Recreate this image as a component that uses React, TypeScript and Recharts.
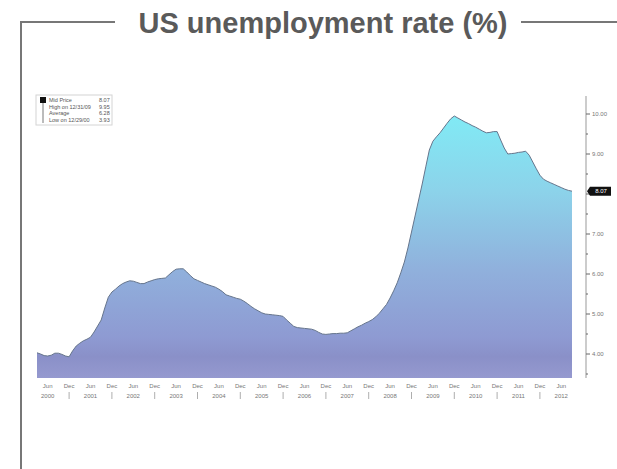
import React from 'react';
import { AreaChart, Area, XAxis, YAxis } from 'recharts';

const monthNames = ['Jan', 'Feb', 'Mar', 'Apr', 'May', 'Jun', 'Jul', 'Aug', 'Sep', 'Oct', 'Nov', 'Dec'];
const years = [2000, 2001, 2002, 2003, 2004, 2005, 2006, 2007, 2008, 2009, 2010, 2011, 2012];

// monthly rate, 2000 starts in March, 2012 ends in September
const rate2000 = [4.03, 4.0, 3.96, 3.95, 3.97, 4.02, 4.02, 3.99, 3.95, 3.93];
const rate2001 = [4.08, 4.2, 4.27, 4.33, 4.37, 4.42, 4.55, 4.7, 4.85, 5.15, 5.42, 5.55];
const rate2002 = [5.62, 5.7, 5.76, 5.8, 5.83, 5.82, 5.79, 5.76, 5.76, 5.8, 5.83, 5.86];
const rate2003 = [5.88, 5.89, 5.9, 5.98, 6.06, 6.12, 6.13, 6.13, 6.05, 5.96, 5.88, 5.84];
const rate2004 = [5.8, 5.76, 5.73, 5.7, 5.67, 5.62, 5.56, 5.48, 5.45, 5.42, 5.39, 5.37];
const rate2005 = [5.32, 5.26, 5.19, 5.13, 5.08, 5.03, 5.0, 4.99, 4.98, 4.97, 4.96, 4.94];
const rate2006 = [4.85, 4.77, 4.69, 4.66, 4.65, 4.64, 4.63, 4.62, 4.59, 4.54, 4.5, 4.49];
const rate2007 = [4.5, 4.51, 4.51, 4.52, 4.52, 4.53, 4.58, 4.63, 4.68, 4.72, 4.77, 4.81];
const rate2008 = [4.86, 4.93, 5.02, 5.13, 5.24, 5.4, 5.58, 5.78, 6.03, 6.3, 6.65, 7.05];
const rate2009 = [7.45, 7.85, 8.25, 8.68, 9.1, 9.32, 9.43, 9.53, 9.65, 9.77, 9.88, 9.95];
const rate2010 = [9.9, 9.85, 9.8, 9.76, 9.71, 9.67, 9.62, 9.57, 9.53, 9.54, 9.56, 9.56];
const rate2011 = [9.35, 9.15, 9.0, 9.01, 9.02, 9.04, 9.05, 9.07, 8.97, 8.8, 8.63, 8.47];
const rate2012 = [8.37, 8.32, 8.28, 8.24, 8.2, 8.16, 8.12, 8.09, 8.07];

const yearlyRates = [rate2000, rate2001, rate2002, rate2003, rate2004, rate2005, rate2006,
  rate2007, rate2008, rate2009, rate2010, rate2011, rate2012];
const firstMonthIndex = 2;

const yTicks = [3.5, 4, 4.5, 5, 5.5, 6, 6.5, 7, 7.5, 8, 8.5, 9, 9.5, 10, 8.07];
const lastPrice = 8.07;

const legendRows = [
  { label: 'Mid Price', value: '8.07' },
  { label: 'High on 12/31/09', value: '9.95' },
  { label: 'Average', value: '6.28' },
  { label: 'Low on 12/29/00', value: '3.93' },
];

const data = yearlyRates.flatMap((vals, i) =>
  vals.map((v, j) => ({
    month: `${monthNames[i === 0 ? j + firstMonthIndex : j]} ${years[i]}`,
    rate: v,
  }))
);

const XTick = (props: any) => {
  const { x, y, payload } = props;
  const [mon, yr] = String(payload.value).split(' ');
  if (mon !== 'Jun' && mon !== 'Dec') return <g />;
  return (
    <g fontFamily="Liberation Sans, Arial, sans-serif" fontSize={6} fill="#777" textAnchor="middle">
      <text x={x} y={y + 10}>{mon}</text>
      {mon === 'Jun' ? (
        <text x={x} y={y + 20}>{yr}</text>
      ) : (
        <line x1={x} x2={x} y1={y + 14} y2={y + 21} stroke="#999" strokeWidth={0.8} />
      )}
    </g>
  );
};

const YTick = (props: any) => {
  const { x, y, payload } = props;
  const v = payload.value;
  if (v === lastPrice) {
    return (
      <g>
        <path d={`M${x + 1} ${y} L${x + 4} ${y - 4.5} H${x + 25} V${y + 4.5} H${x + 4} Z`} fill="#111" />
        <text x={x + 15} y={y + 2} fill="#fff" fontSize={6} fontFamily="Liberation Sans, Arial, sans-serif" textAnchor="middle">
          8.07
        </text>
      </g>
    );
  }
  const major = Number.isInteger(v);
  return (
    <g>
      <line x1={x} x2={x + (major ? 4 : 2)} y1={y} y2={y} stroke="#666" strokeWidth={1} />
      {major && v !== 8 && (
        <text x={x + 6} y={y + 2} fill="#777" fontSize={6} fontFamily="Liberation Sans, Arial, sans-serif">
          {v.toFixed(2)}
        </text>
      )}
    </g>
  );
};

const App: React.FC = () => {
  return (
    <div style={{ position: 'absolute', left: 0, top: 0, width: 617, height: 469, background: '#fff' }}>
      <AreaChart
        width={617}
        height={469}
        data={data}
        margin={{ top: 96, right: 0, bottom: 66, left: 37 }}
      >
        <defs>
          <linearGradient id="rateFill" gradientUnits="userSpaceOnUse" x1="0" y1="110" x2="0" y2="378">
            <stop offset="0%" stopColor="#80ecf6" />
            <stop offset="30%" stopColor="#8cd3ea" />
            <stop offset="60%" stopColor="#90b0dc" />
            <stop offset="85%" stopColor="#8e9ad2" />
            <stop offset="92%" stopColor="#8a90c8" />
            <stop offset="100%" stopColor="#9599cf" />
          </linearGradient>
        </defs>
        <XAxis
          dataKey="month"
          interval={0}
          tick={<XTick />}
          tickSize={0}
          tickMargin={0}
          axisLine={false}
          tickLine={false}
          height={25}
          padding={{ left: 0, right: 14 }}
        />
        <YAxis
          orientation="right"
          domain={[3.4, 10.45]}
          ticks={yTicks}
          interval={0}
          tick={<YTick />}
          tickSize={0}
          tickMargin={0}
          tickLine={false}
          axisLine={{ stroke: '#999' }}
          width={31}
          allowDataOverflow
        />
        <Area
          type="linear"
          dataKey="rate"
          stroke="#66758c"
          strokeWidth={1}
          fill="url(#rateFill)"
          fillOpacity={1}
          baseValue="dataMin"
          isAnimationActive={false}
          dot={false}
          activeDot={false}
        />
      </AreaChart>
      <svg
        width={617}
        height={469}
        style={{ position: 'absolute', left: 0, top: 0, pointerEvents: 'none' }}
      >
        <line x1={21} x2={21} y1={21} y2={469} stroke="#777" strokeWidth={2} />
        <line x1={20} x2={115} y1={22} y2={22} stroke="#777" strokeWidth={2} />
        <line x1={521} x2={617} y1={22} y2={22} stroke="#777" strokeWidth={2} />
        <text
          x={323}
          y={33}
          textAnchor="middle"
          fontFamily="Liberation Sans, Arial, sans-serif"
          fontWeight="bold"
          fontSize={29}
          fill="#5a5a5a"
        >
          US unemployment rate (%)
        </text>
        <rect x={36} y={95} width={76} height={30} fill="#fff" fillOpacity={0.85} stroke="#d4d4d4" strokeWidth={1} />
        <rect x={40} y={97} width={6} height={6} fill="#111" />
        <line x1={43} x2={43} y1={103} y2={123} stroke="#555" strokeWidth={0.8} />
        {legendRows.map((r, i) => (
          <g key={r.label} fontFamily="Liberation Sans, Arial, sans-serif" fontSize={5.5} fill="#555">
            <text x={49} y={102 + i * 6.5}>{r.label}</text>
            <text x={99} y={102 + i * 6.5}>{r.value}</text>
          </g>
        ))}
      </svg>
    </div>
  );
};

export default App;
